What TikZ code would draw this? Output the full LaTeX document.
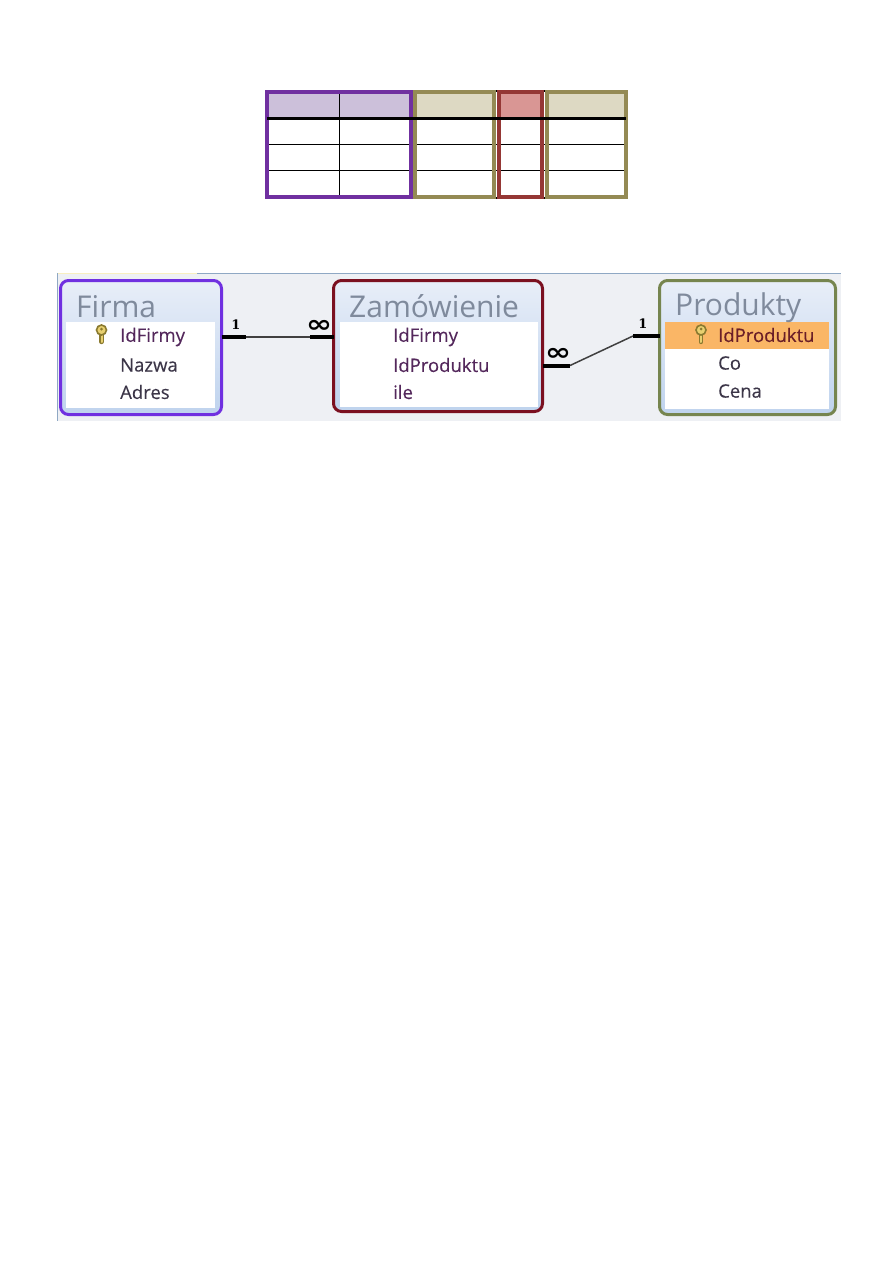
\documentclass[tikz,border=0pt]{standalone}
\usepackage{fontspec}
\setmainfont{Open Sans}
\newfontfamily\fieldfont{Open Sans}[FakeBold=0.25]
\newfontfamily\markfont{DejaVu Serif Bold}
\newfontfamily\manyfont{DejaVu Sans Bold}
\usepackage{tikz}

\definecolor{tabpurple}{HTML}{7030A0}
\definecolor{tabtan}{HTML}{948A54}
\definecolor{tabred}{HTML}{953735}
\definecolor{headpurple}{HTML}{CCC0DA}
\definecolor{headtan}{HTML}{DDD9C3}
\definecolor{headred}{HTML}{D99694}
\definecolor{boxviolet}{HTML}{7030E0}
\definecolor{boxmaroon}{HTML}{7B1020}
\definecolor{boxolive}{HTML}{76854F}
\definecolor{boxtop}{HTML}{E8EEF8}
\definecolor{boxbottom}{HTML}{BFD3EE}
\definecolor{panelgrey}{HTML}{EEF0F4}
\definecolor{paneledge}{HTML}{8FA8C4}
\definecolor{paneltop}{HTML}{F8EFC0}
\definecolor{titlegrey}{HTML}{7F8A9C}
\definecolor{fieldink}{HTML}{3C3648}
\definecolor{idink}{HTML}{54285C}
\definecolor{keyink}{HTML}{6B1F28}
\definecolor{keyrow}{HTML}{FAB666}
\definecolor{keygold}{HTML}{8A7A30}
\definecolor{keylight}{HTML}{E8D070}

\tikzset{
  colbox/.style={line width=4},
  gridline/.style={line width=1,black},
  erbox/.style={rounded corners=8,line width=3,anchor=north west,inner sep=0,outer sep=0,top color=boxtop,bottom color=boxbottom},
  ertitle/.style={anchor=base west,inner sep=0,text=titlegrey,font=\fontsize{30pt}{30pt}\selectfont},
  erfield/.style={anchor=west,inner sep=0,text=fieldink,font=\fieldfont\fontsize{18.5pt}{18.5pt}\selectfont},
  relthin/.style={line width=1.5,black!75},
  relthick/.style={line width=4,black},
  relone/.style={inner sep=0,font=\markfont\fontsize{13pt}{13pt}\selectfont},
  relmany/.style={inner sep=0,font=\manyfont\fontsize{24pt}{24pt}\selectfont},
}

% small key in front of a primary field
\newcommand{\keyicon}[2]{
  \draw [line width=4.4,keygold,line cap=round] (#1,#2+1) -- (#1,#2+8);
  \draw [line width=2,keylight,line cap=round] (#1,#2+1) -- (#1,#2+8);
  \draw [line width=1.6,keygold,fill=keylight] (#1,#2-4) circle (5);
  \fill [keygold] (#1,#2-5) circle (1.5);
}

\begin{document}
\begin{tikzpicture}[x=1pt,y=-1pt]
  \useasboundingbox [fill=white] (0,0) rectangle (893,1263);

  % header fills of the columns
  \fill [headpurple] (267,92) rectangle (411,118);
  \fill [headtan] (415,92) rectangle (494,118);
  \fill [headred] (499,92) rectangle (542,118);
  \fill [headtan] (547,92) rectangle (626,118);
  % rows and the inner column line
  \draw [gridline] (267,144.3) -- (626,144.3);
  \draw [gridline] (267,170.3) -- (626,170.3);
  \draw [gridline] (339.3,92) -- (339.3,196);
  % short ticks left between the frames
  \draw [line width=0.7,black] (496.5,90) -- (496.5,92);
  \draw [line width=0.7,black] (544.5,90) -- (544.5,92);
  \draw [line width=0.7,black] (496.5,197) -- (496.5,199);
  \draw [line width=0.7,black] (544.5,197) -- (544.5,199);
  % coloured frames round the columns
  \draw [colbox,tabpurple] (267,92) rectangle (411,196.7);
  \draw [colbox,tabtan] (415,92) rectangle (494,196.7);
  \draw [colbox,tabred] (499,92) rectangle (542,196.7);
  \draw [colbox,tabtan] (547,92) rectangle (626,196.7);
  % thick line under the header
  \draw [line width=3,black] (267,118) -- (626,118);

  % panel behind the tables
  \fill [panelgrey] (57,273) rectangle (841,421);
  \draw [line width=1.5,paneledge] (197,273.7) -- (841,273.7);
  \draw [line width=1.5,paneltop] (57,273.7) -- (197,273.7);
  \draw [line width=1.5,paneledge] (57.7,273) -- (57.7,421);

  % Firma table
  \node [erbox,draw=boxviolet,minimum width=161,minimum height=134] (firma) at (60.5,280.5) {};
  \fill [white] (66,322) rectangle (215,408);
  \node [ertitle] (firmatitle) at (76,317) {Firma};
  \node [erfield,text=idink] (firmaid) at (120,337) {IdFirmy};
  \node [erfield] (firmaname) at (120,365) {Nazwa};
  \node [erfield] (firmaaddr) at (120,392) {Adres};
  \keyicon{101.5}{334}

  % Zamowienie table
  \node [erbox,draw=boxmaroon,minimum width=209,minimum height=131] (order) at (333.5,280.5) {};
  \fill [white] (340,322) rectangle (538,407);
  \node [ertitle] (ordertitle) at (349,317) {Zamówienie};
  \node [erfield,text=idink] (orderfirm) at (393,337) {IdFirmy};
  \node [erfield,text=idink] (orderprod) at (393,365) {IdProduktu};
  \node [erfield,text=idink] (orderqty) at (393,392) {ile};

  % Produkty table
  \node [erbox,draw=boxolive,minimum width=176,minimum height=134] (prod) at (659.5,280.5) {};
  \fill [white] (665,322) rectangle (829,409);
  \fill [keyrow] (665,322) rectangle (829,348.5);
  \node [ertitle] (prodtitle) at (675,315) {Produkty};
  \node [erfield,text=keyink] (prodid) at (718,335) {IdProduktu};
  \node [erfield] (prodname) at (718,363) {Co};
  \node [erfield] (prodprice) at (718,391) {Cena};
  \keyicon{701}{334}

  % relation Firma - Zamowienie
  \draw [relthin] (firma.east |- firmaid) -- (order.west |- firmaid);
  \draw [relthick] (firma.east |- firmaid) -- ++(24,0);
  \draw [relthick] (order.west |- firmaid) -- ++(-24,0);
  \node [relone] (firmaone) at (236,325) {1};
  \node [relmany] (ordermany) at (319,326.5) {\scalebox{1.3}[1]{∞}};

  % relation Zamowienie - Produkty
  \coordinate (bendleft) at (570,365.5);
  \coordinate (bendright) at (633,336);
  \draw [relthin] (bendleft) -- (bendright);
  \draw [relthick] (order.east |- bendleft) -- (bendleft);
  \draw [relthick] (prod.west |- bendright) -- (bendright);
  \node [relmany] (ordermanyb) at (558,354.5) {\scalebox{1.3}[1]{∞}};
  \node [relone] (prodone) at (643,324) {1};
\end{tikzpicture}
\end{document}
